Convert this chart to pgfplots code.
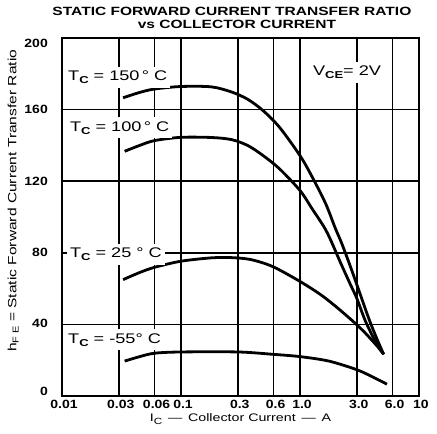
\documentclass[border=0pt]{standalone}
\usepackage{fontspec}
\setmainfont{Liberation Sans}
\newfontfamily\wf[FakeStretch=1.3]{Liberation Sans}
\newfontfamily\tf[FakeStretch=1.17]{Liberation Sans}
\usepackage{pgfplots}
\pgfplotsset{compat=1.18}
\newcommand\sub[3]{\raisebox{-#2}{\fontsize{#1}{#1}\selectfont #3}}
\newcommand\yl[2]{\raisebox{#1}[0pt][0pt]{#2}}
\begin{document}
\begin{tikzpicture}
\begin{axis}[
  width=357bp, height=358bp, scale only axis,
  xmode=log, xmin=0.01, xmax=10, ymin=0, ymax=200,
  xtick={0.01,0.03,0.06,0.1,0.3,0.6,1,3,6,10},
  xticklabels={0.01,0.03,0.06,0.1,0.3,0.6,1.0,3.0,6.0,10},
  ytick={0,40,80,120,160,200},
  yticklabels={\yl{0.4bp}{0},\yl{-2.7bp}{40},\yl{-4.2bp}{80},\yl{-4.2bp}{120},\yl{-4.2bp}{160},\yl{-9.9bp}{200}},
  xminorticks=false, yminorticks=false,
  major tick length=0pt,
  grid=major,
  major grid style={black, line width=1.5bp},
  axis line style={black, line width=1.8bp},
  /pgf/number format/assume math mode=true,
  tick label style={font=\tf\bfseries\fontsize{12}{12}\selectfont, inner sep=0pt},
  xticklabel style={anchor=north, yshift=-4bp, xshift=2bp},
  yticklabel style={anchor=east, xshift=-14bp},
  xlabel={I\sub{9bp}{2.5bp}{C} \,—\, Collector Current \,—\, A},
  xlabel style={font=\wf\fontsize{11}{12}\selectfont, at={(axis description cs:0.5,-0.0726)}, anchor=base},
  ylabel={h\sub{8.5bp}{2.2bp}{F E} = Static Forward Current Transfer Ratio},
  ylabel style={font=\wf\fontsize{12}{13}\selectfont, at={(axis description cs:-0.137,0.545)}, anchor=center},
  clip=false,
]
% Tc = 150 C
\addplot[black, line width=2.8bp, smooth] coordinates {
(0.0326,166.6) (0.045,169.6) (0.06,171.5) (0.1,172.9) (0.18,172.7) (0.267,169.8)
(0.365,165.7) (0.49,159.4) (0.673,150.1) (1.0,134.3) (1.27,122.2) (1.65,107.2)
(1.97,94.1) (2.26,84.7) (2.74,69.7) (3.22,56.5) (3.78,43.4) (4.43,31.9) (5.05,23.3)};
% Tc = 100 C
\addplot[black, line width=2.8bp, smooth] coordinates {
(0.0336,136.7) (0.045,140) (0.06,142.7) (0.1,144.5) (0.182,144.4) (0.267,143.2)
(0.365,139.9) (0.49,134.3) (0.673,126.9) (1.0,114.8) (1.27,104.4) (1.59,94.5)
(1.8,87.5) (2.19,74.5) (2.66,62.1) (3.0,54.6) (3.54,42) (4.3,30.5) (5.05,23.3)};
% Tc = 25 C
\addplot[black, line width=2.8bp, smooth] coordinates {
(0.0326,65) (0.045,69) (0.06,71.9) (0.1,75.3) (0.182,77.2) (0.267,77.3) (0.387,76.2)
(0.59,72.3) (1.0,64) (1.5,56.5) (2.0,50) (2.5,44.5) (3.0,39.8) (3.5,35.5) (4.0,31.3)
(4.5,27.5) (5.05,23.3)};
% Tc = -55 C
\addplot[black, line width=2.8bp, smooth] coordinates {
(0.0336,19.5) (0.045,22) (0.06,23.9) (0.1,24.6) (0.3,24.6) (0.59,23.3) (1.0,22)
(1.75,19.5) (3.0,14.7) (4.03,10.8) (5.38,6.6)};

\begin{scope}[every node/.style={fill=white, inner xsep=3bp, inner ysep=4bp, font=\wf\fontsize{14}{14}\selectfont}]
\node[anchor=base west] at (axis cs:0.0106,176.1) {T\sub{10bp}{3bp}{\bfseries C} = 150\,° C};
\node[anchor=base west] at (axis cs:0.0110,148) {T\sub{10bp}{3bp}{\bfseries C} = 100\,° C};
\node[anchor=base west] at (axis cs:0.0110,77.2) {T\sub{10bp}{3bp}{\bfseries C} = 25 ° C\hspace{15bp}};
\node[anchor=base west] at (axis cs:0.0106,29.5) {T\sub{10bp}{3bp}{\bfseries C} = -55° C};
\node[anchor=base east] at (axis cs:5.1,179) {V\sub{10bp}{3bp}{\bfseries CE}= 2V};
\end{scope}
\node[anchor=base, font=\wf\bfseries\fontsize{12}{12}\selectfont] at (axis description cs:0.476,1.0615) {STATIC FORWARD CURRENT TRANSFER RATIO};
\node[anchor=base, font=\wf\bfseries\fontsize{12}{12}\selectfont] at (axis description cs:0.490,1.0279) {vs COLLECTOR CURRENT};
\end{axis}
\path (current axis.south west) +(-62bp,-38bp) coordinate (bl);
\path (current axis.north east) +(18bp,38bp) coordinate (tr);
\pgfresetboundingbox
\path (bl) rectangle (tr);
\end{tikzpicture}
\end{document}
